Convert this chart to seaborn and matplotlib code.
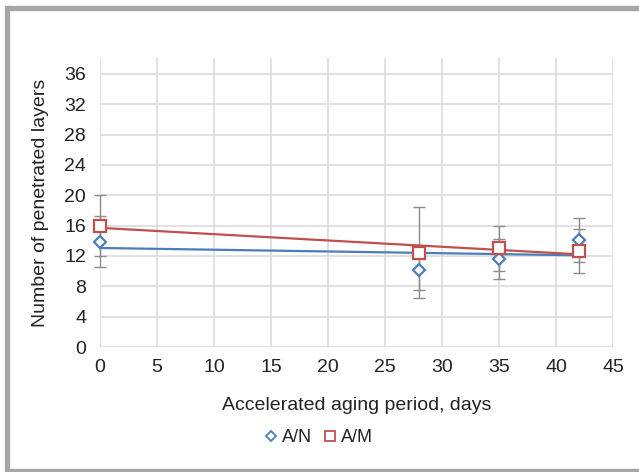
import numpy as np
import pandas as pd
import matplotlib
matplotlib.use("Agg")
import matplotlib.pyplot as plt
import seaborn as sns
from matplotlib.lines import Line2D

# ── Data ─────────────────────────────────────────────────
days = [0, 28, 35, 42]
an_mean = [13.9, 10.2, 11.6, 14.1]
an_err = [3.4, 2.7, 2.7, 2.9]
am_mean = [16.0, 12.4, 13.0, 12.7]
am_err = [4.0, 6.0, 3.0, 2.9]
series_names = ["A/N", "A/M"]
y_ticks = [0, 4, 8, 12, 16, 20, 24, 28, 32, 36]
x_ticks = [0, 5, 10, 15, 20, 25, 30, 35, 40, 45]

BLUE = "#4a7ebb"
RED = "#c0504d"
GREY = "#8c8c8c"
GRID = "#d9d9d9"
TXT = "#222222"
FRAME = "#a6a6a6"

sns.set_theme(style="whitegrid")
plt.rcParams["font.family"] = ["Liberation Sans", "DejaVu Sans"]

df = pd.DataFrame({
    "days": days * 2,
    "layers": an_mean + am_mean,
    "err": an_err + am_err,
    "series": [series_names[0]] * 4 + [series_names[1]] * 4,
})

fig = plt.figure(figsize=(6.39, 4.72), dpi=100)
fig.patch.set_linewidth(0)
fig.patch.set_edgecolor("white")
ax = fig.add_axes([100 / 639, 1 - 347 / 472, 513 / 639, 289 / 472])

styles = {"A/N": (BLUE, "D", 6.3), "A/M": (RED, "s", 8.5)}

# error bars first (grey, behind everything)
for name in series_names:
    sub = df[df["series"] == name]
    eb = ax.errorbar(sub["days"], sub["layers"], yerr=sub["err"], fmt="none",
                     ecolor=GREY, elinewidth=1.0, capsize=4, capthick=1.0, zorder=2)
    for art in eb.lines[1] + eb.lines[2]:
        art.set_clip_on(False)

# linear trend lines
for name in series_names:
    sub = df[df["series"] == name]
    color = styles[name][0]
    sns.regplot(data=sub, x="days", y="layers", scatter=False, ci=None,
                truncate=True, ax=ax, line_kws={"color": color, "lw": 1.6, "zorder": 3})
for ln in ax.lines:
    ln.set_clip_on(False)

# open markers on top
for name in series_names:
    sub = df[df["series"] == name]
    color, marker, ms = styles[name]
    ax.plot(sub["days"], sub["layers"], linestyle="none", marker=marker, ms=ms,
            mfc="white", mec=color, mew=1.6, zorder=4, clip_on=False)

ax.set_xlim(0, 45)
ax.set_ylim(0, 38.1)
ax.set_xticks(x_ticks)
ax.set_yticks(y_ticks)
ax.tick_params(axis="both", length=0, labelsize=14, colors=TXT)
ax.tick_params(axis="y", pad=10)
ax.tick_params(axis="x", pad=9)
ax.grid(True, color=GRID, lw=1.1)
ax.set_axisbelow(True)
for s in ax.spines.values():
    s.set_visible(False)

ax.set_xlabel("Accelerated aging period, days", fontsize=14, color=TXT, labelpad=15)
ax.set_ylabel("Number of penetrated layers", fontsize=14, color=TXT, labelpad=11)

handles = [
    Line2D([], [], linestyle="none", marker="D", ms=5, mfc="white", mec=BLUE, mew=1.3),
    Line2D([], [], linestyle="none", marker="s", ms=7, mfc="white", mec=RED, mew=1.3),
]
fig.legend(handles, series_names, loc="center", bbox_to_anchor=(318 / 639, 1 - 438 / 472),
           ncol=2, frameon=False, fontsize=13, handlelength=0.8, handletextpad=0.2,
           columnspacing=0.6, labelcolor=TXT)

# grey frame around the panel: left, top and bottom edges (right side is cropped off)
x0, y_top, y_bot = 6.5 / 639, 1 - 8 / 472, 1 - 470.5 / 472
fig.add_artist(Line2D([x0, x0], [y_bot, y_top], color=FRAME, lw=3.8,
                      transform=fig.transFigure, solid_capstyle="projecting"))
fig.add_artist(Line2D([x0, 1.05], [y_top, y_top], color=FRAME, lw=3.8,
                      transform=fig.transFigure, solid_capstyle="butt"))
fig.add_artist(Line2D([x0, 1.05], [y_bot, y_bot], color=FRAME, lw=3.8,
                      transform=fig.transFigure, solid_capstyle="butt"))

fig.savefig("out.png", dpi=100, facecolor="white", edgecolor="white")
